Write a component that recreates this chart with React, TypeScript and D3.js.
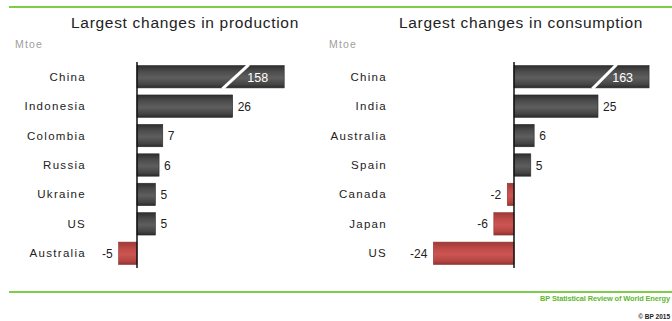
import React from "react";
import * as d3 from "d3";

const prodCountries = ["China", "Indonesia", "Colombia", "Russia", "Ukraine", "US", "Australia"];
const prodValues = [158, 26, 7, 6, 5, 5, -5];
const consCountries = ["China", "India", "Australia", "Spain", "Canada", "Japan", "US"];
const consValues = [163, 25, 6, 5, -2, -6, -24];
const unitLabel = "Mtoe";
const prodTitle = "Largest changes in production";
const consTitle = "Largest changes in consumption";
const footerSource = "BP Statistical Review of World Energy";
const footerCopy = "© BP 2015";

const W = 672;
const H = 321;
const FONT = "'Liberation Sans', Arial, sans-serif";

type PanelProps = {
  title: string;
  countries: string[];
  values: number[];
  axisX: number;
  pxPerUnit: number;
  breakAt: number;
  labelRight: number;
  titleX: number;
  unitX: number;
  id: string;
};

function Panel(p: PanelProps) {
  const y = d3
    .scaleBand<string>()
    .domain(p.countries)
    .range([62, 268])
    .paddingInner(0.24)
    .paddingOuter(0.12);
  const x = d3
    .scaleLinear()
    .domain([0, p.breakAt])
    .range([p.axisX, p.axisX + p.breakAt * p.pxPerUnit]);
  return (
    <g>
      <text x={p.titleX} y={28} textAnchor="middle" fontSize={15.5} fill="#222" fontFamily={FONT} letterSpacing={0.7}>
        {p.title}
      </text>
      <text x={p.unitX} y={48} fontSize={10.5} fill="#a0a0a0" fontFamily={FONT} letterSpacing={1.2}>
        {unitLabel}
      </text>
      {p.countries.map((c, i) => {
        const v = p.values[i];
        const shown = Math.max(Math.min(v, p.breakAt), -p.breakAt);
        const x0 = Math.min(x(0), x(shown));
        const w = Math.abs(x(shown) - x(0));
        const by = y(c)!;
        const bh = y.bandwidth();
        const cy = by + bh / 2;
        const broken = v > p.breakAt;
        const neg = v < 0;
        return (
          <g key={c}>
            <text x={p.labelRight} y={cy + 4} textAnchor="end" fontSize={11.5} fill="#222" fontFamily={FONT} letterSpacing={1.3}>
              {c}
            </text>
            <rect
              x={x0}
              y={by}
              width={w}
              height={bh}
              fill={neg ? `url(#red-${p.id})` : `url(#gray-${p.id})`}
              stroke={neg ? "#8e3331" : "#2a2a2a"}
              strokeWidth={0.6}
            />
            {broken ? (
              <>
                <line
                  x1={x(shown) - w * 0.42}
                  y1={by + bh + 1}
                  x2={x(shown) - w * 0.24}
                  y2={by - 1}
                  stroke="#fff"
                  strokeWidth={3}
                />
                <text x={x(shown) - 16} y={cy + 5} textAnchor="end" fontSize={12.5} fill="#fff" fontFamily={FONT}>
                  {v}
                </text>
              </>
            ) : (
              <text
                x={neg ? x(shown) - 6 : x(shown) + 5}
                y={cy + 4.5}
                textAnchor={neg ? "end" : "start"}
                fontSize={12}
                fill="#222"
                fontFamily={FONT}
              >
                {v}
              </text>
            )}
          </g>
        );
      })}
      <line x1={p.axisX} x2={p.axisX} y1={62} y2={268} stroke="#111" strokeWidth={1.5} />
    </g>
  );
}

export default function App() {
  const grads = ["p", "c"];
  return (
    <svg width={W} height={H} style={{ position: "absolute", left: 0, top: 0, display: "block" }}>
      <defs>
        {grads.map((g) => (
          <React.Fragment key={g}>
            <linearGradient id={`gray-${g}`} x1="0" y1="0" x2="0" y2="1">
              <stop offset="0" stopColor="#2e2e2e" />
              <stop offset="0.25" stopColor="#4a4a4a" />
              <stop offset="0.55" stopColor="#5e5e5e" />
              <stop offset="0.85" stopColor="#444" />
              <stop offset="1" stopColor="#2a2a2a" />
            </linearGradient>
            <linearGradient id={`red-${g}`} x1="0" y1="0" x2="0" y2="1">
              <stop offset="0" stopColor="#9e3a38" />
              <stop offset="0.3" stopColor="#c04b48" />
              <stop offset="0.55" stopColor="#cc5552" />
              <stop offset="0.85" stopColor="#b44542" />
              <stop offset="1" stopColor="#8e3331" />
            </linearGradient>
          </React.Fragment>
        ))}
      </defs>
      <rect width={W} height={H} fill="#fff" />
      <line x1={9} x2={W} y1={7} y2={7} stroke="#7dcc4a" strokeWidth={2} />
      <line x1={9} x2={W} y1={292} y2={292} stroke="#7dcc4a" strokeWidth={2} />
      <Panel
        id="p"
        title={prodTitle}
        countries={prodCountries}
        values={prodValues}
        axisX={137}
        pxPerUnit={3.68}
        breakAt={40}
        labelRight={86}
        titleX={185}
        unitX={15}
      />
      <Panel
        id="c"
        title={consTitle}
        countries={consCountries}
        values={consValues}
        axisX={514}
        pxPerUnit={3.36}
        breakAt={40.2}
        labelRight={387}
        titleX={521}
        unitX={329}
      />
      <text x={670} y={301} textAnchor="end" fontSize={7.4} fontWeight="bold" fill="#5cb82e" fontFamily={FONT} letterSpacing={-0.1}>
        {footerSource}
      </text>
      <text x={670} y={319} textAnchor="end" fontSize={6.5} fontWeight="bold" fill="#222" fontFamily={FONT}>
        {footerCopy}
      </text>
    </svg>
  );
}
